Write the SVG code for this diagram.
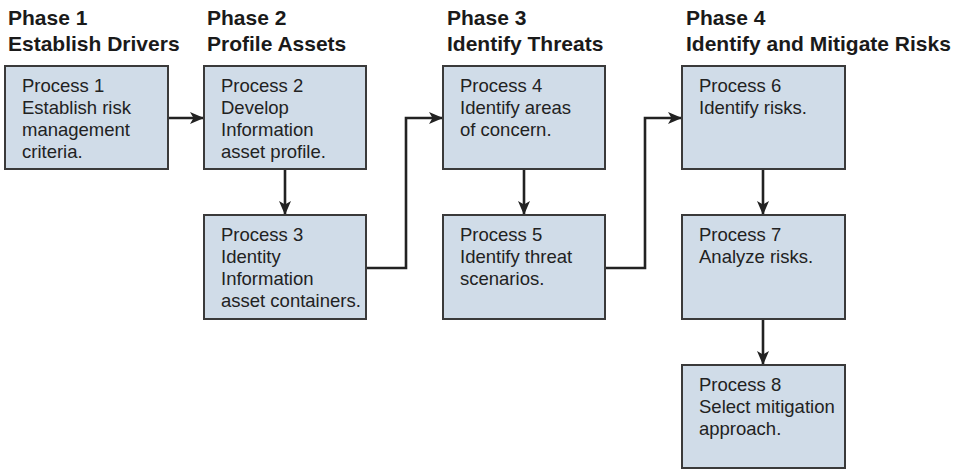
<svg xmlns="http://www.w3.org/2000/svg" width="957" height="470" viewBox="0 0 957 470">
  <defs>
    <style>
      .phase { font-family: "Liberation Sans", Arial, sans-serif; font-weight: bold; font-size: 21px; fill: #1a1a1a; }
      .box { fill: #d0dce8; stroke: #3a3a3a; stroke-width: 2; }
      .label { font-family: "Liberation Sans", Arial, sans-serif; font-size: 18.5px; fill: #222; }
      .conn { fill: none; stroke: #222; stroke-width: 2.6; }
    </style>
    <marker id="arrow" viewBox="0 0 14 12" refX="13" refY="6" markerWidth="14" markerHeight="12" markerUnits="userSpaceOnUse" orient="auto">
      <path d="M0,0 L14,6 L0,12 L3.5,6 Z" fill="#222"/>
    </marker>
  </defs>
  <rect width="957" height="470" fill="#ffffff"/>

  <!-- Phase headings -->
  <g id="phases">
    <text class="phase" x="8" y="25">Phase 1</text>
    <text class="phase" x="8" y="51">Establish Drivers</text>
    <text class="phase" x="207" y="25">Phase 2</text>
    <text class="phase" x="207" y="51">Profile Assets</text>
    <text class="phase" x="447" y="25">Phase 3</text>
    <text class="phase" x="447" y="51">Identify Threats</text>
    <text class="phase" x="686" y="25">Phase 4</text>
    <text class="phase" x="686" y="51">Identify and Mitigate Risks</text>
  </g>

  <!-- Connectors -->
  <g id="connectors">
    <path class="conn" d="M168,118 H203" marker-end="url(#arrow)"/>
    <path class="conn" d="M285,169 V214" marker-end="url(#arrow)"/>
    <path class="conn" d="M366,268 H406 V118 H442" marker-end="url(#arrow)"/>
    <path class="conn" d="M524,169 V214" marker-end="url(#arrow)"/>
    <path class="conn" d="M605,268 H645 V118 H681" marker-end="url(#arrow)"/>
    <path class="conn" d="M763,169 V214" marker-end="url(#arrow)"/>
    <path class="conn" d="M763,319 V364" marker-end="url(#arrow)"/>
  </g>

  <!-- Process nodes -->
  <g id="process1">
    <rect class="box" x="5" y="66" width="163" height="103"/>
    <text class="label" x="22" y="92">Process 1</text>
    <text class="label" x="22" y="114">Establish risk</text>
    <text class="label" x="22" y="136">management</text>
    <text class="label" x="22" y="158">criteria.</text>
  </g>
  <g id="process2">
    <rect class="box" x="204" y="66" width="162" height="103"/>
    <text class="label" x="221" y="92">Process 2</text>
    <text class="label" x="221" y="114">Develop</text>
    <text class="label" x="221" y="136">Information</text>
    <text class="label" x="221" y="158">asset profile.</text>
  </g>
  <g id="process3">
    <rect class="box" x="204" y="215" width="162" height="104"/>
    <text class="label" x="221" y="241">Process 3</text>
    <text class="label" x="221" y="263">Identity</text>
    <text class="label" x="221" y="285">Information</text>
    <text class="label" x="221" y="307">asset containers.</text>
  </g>
  <g id="process4">
    <rect class="box" x="443" y="66" width="162" height="103"/>
    <text class="label" x="460" y="92">Process 4</text>
    <text class="label" x="460" y="114">Identify areas</text>
    <text class="label" x="460" y="136">of concern.</text>
  </g>
  <g id="process5">
    <rect class="box" x="443" y="215" width="162" height="104"/>
    <text class="label" x="460" y="241">Process 5</text>
    <text class="label" x="460" y="263">Identify threat</text>
    <text class="label" x="460" y="285">scenarios.</text>
  </g>
  <g id="process6">
    <rect class="box" x="682" y="66" width="163" height="103"/>
    <text class="label" x="699" y="92">Process 6</text>
    <text class="label" x="699" y="114">Identify risks.</text>
  </g>
  <g id="process7">
    <rect class="box" x="682" y="215" width="163" height="104"/>
    <text class="label" x="699" y="241">Process 7</text>
    <text class="label" x="699" y="263">Analyze risks.</text>
  </g>
  <g id="process8">
    <rect class="box" x="682" y="365" width="163" height="103"/>
    <text class="label" x="699" y="391">Process 8</text>
    <text class="label" x="699" y="413">Select mitigation</text>
    <text class="label" x="699" y="435">approach.</text>
  </g>
</svg>
